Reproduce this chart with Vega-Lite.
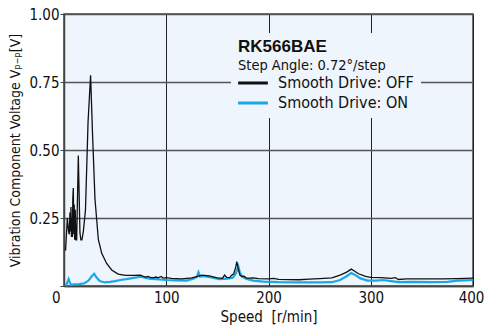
{
  "$schema": "https://vega.github.io/schema/vega-lite/v6.json",
  "width": 409,
  "height": 272,
  "autosize": {"type": "none"},
  "padding": {"left": 64, "top": 14, "right": 12, "bottom": 43},
  "background": "white",
  "config": {
    "font": "DejaVu Sans Condensed, sans-serif",
    "view": {"fill": "#EEF5FC", "stroke": "#444444", "strokeWidth": 1.5},
    "axis": {
      "labelFont": "DejaVu Sans Condensed, sans-serif",
      "titleFont": "DejaVu Sans Condensed, sans-serif",
      "labelFontSize": 15,
      "titleFontSize": 15,
      "titleFontWeight": "normal",
      "labelColor": "#111111",
      "titleColor": "#111111",
      "domainColor": "#444444",
      "domainWidth": 1.5
    }
  },
  "title": {
    "text": "RK566BAE",
    "subtitle": "Step Angle: 0.72°/step",
    "anchor": "start",
    "frame": "group",
    "orient": "top",
    "offset": -66,
    "dx": 174,
    "font": "Liberation Sans, sans-serif",
    "fontSize": 17,
    "fontWeight": "bold",
    "color": "#111111",
    "subtitleFont": "DejaVu Sans Condensed, sans-serif",
    "subtitleFontSize": 14.5,
    "subtitleColor": "#111111",
    "subtitlePadding": 3
  },
  "datasets": {
    "off": [
      {"speed": 1.5, "v": 0.13}, {"speed": 3.3, "v": 0.25}, {"speed": 4.5, "v": 0.2}, {"speed": 5.2, "v": 0.19},
      {"speed": 5.8, "v": 0.27}, {"speed": 6.4, "v": 0.2}, {"speed": 6.8, "v": 0.29}, {"speed": 7.3, "v": 0.18},
      {"speed": 7.8, "v": 0.25}, {"speed": 8.2, "v": 0.18}, {"speed": 8.6, "v": 0.32}, {"speed": 9.1, "v": 0.36},
      {"speed": 9.6, "v": 0.19}, {"speed": 10.0, "v": 0.3}, {"speed": 10.4, "v": 0.17}, {"speed": 11.0, "v": 0.28},
      {"speed": 11.7, "v": 0.17}, {"speed": 12.4, "v": 0.17}, {"speed": 14.0, "v": 0.48}, {"speed": 15.6, "v": 0.195},
      {"speed": 16.5, "v": 0.17}, {"speed": 17.5, "v": 0.17}, {"speed": 18.9, "v": 0.2}, {"speed": 21, "v": 0.28},
      {"speed": 23.5, "v": 0.6}, {"speed": 26, "v": 0.775}, {"speed": 28, "v": 0.55}, {"speed": 30.3, "v": 0.32},
      {"speed": 33.6, "v": 0.17}, {"speed": 36.9, "v": 0.12}, {"speed": 41.7, "v": 0.083}, {"speed": 46.6, "v": 0.059},
      {"speed": 53, "v": 0.044}, {"speed": 60, "v": 0.039}, {"speed": 68, "v": 0.039}, {"speed": 75, "v": 0.04},
      {"speed": 77, "v": 0.036}, {"speed": 80, "v": 0.033}, {"speed": 82, "v": 0.035}, {"speed": 85, "v": 0.031},
      {"speed": 88, "v": 0.031}, {"speed": 90, "v": 0.033}, {"speed": 92, "v": 0.03}, {"speed": 95, "v": 0.035},
      {"speed": 97, "v": 0.029}, {"speed": 100, "v": 0.031}, {"speed": 105, "v": 0.028}, {"speed": 115, "v": 0.026},
      {"speed": 125, "v": 0.03}, {"speed": 135, "v": 0.04}, {"speed": 142, "v": 0.037}, {"speed": 150, "v": 0.03},
      {"speed": 155, "v": 0.028}, {"speed": 157, "v": 0.04}, {"speed": 159, "v": 0.032}, {"speed": 162, "v": 0.031},
      {"speed": 164, "v": 0.04}, {"speed": 166, "v": 0.045}, {"speed": 168, "v": 0.07}, {"speed": 169, "v": 0.09},
      {"speed": 170, "v": 0.07}, {"speed": 172, "v": 0.04}, {"speed": 174, "v": 0.035}, {"speed": 176, "v": 0.036},
      {"speed": 178, "v": 0.03}, {"speed": 182, "v": 0.029}, {"speed": 185, "v": 0.03}, {"speed": 190, "v": 0.027},
      {"speed": 200, "v": 0.026}, {"speed": 205, "v": 0.028}, {"speed": 210, "v": 0.024}, {"speed": 230, "v": 0.023},
      {"speed": 240, "v": 0.025}, {"speed": 250, "v": 0.027}, {"speed": 262, "v": 0.03}, {"speed": 270, "v": 0.04},
      {"speed": 276, "v": 0.05}, {"speed": 281, "v": 0.062}, {"speed": 284, "v": 0.055}, {"speed": 288, "v": 0.045},
      {"speed": 295, "v": 0.035}, {"speed": 300, "v": 0.032}, {"speed": 310, "v": 0.031}, {"speed": 320, "v": 0.028},
      {"speed": 324, "v": 0.031}, {"speed": 327, "v": 0.024}, {"speed": 335, "v": 0.026}, {"speed": 350, "v": 0.026},
      {"speed": 370, "v": 0.026}, {"speed": 385, "v": 0.027}, {"speed": 400, "v": 0.029}
    ],
    "on": [
      {"speed": 1.5, "v": 0.0}, {"speed": 3, "v": 0.01}, {"speed": 4.5, "v": 0.025}, {"speed": 5.5, "v": 0.015},
      {"speed": 7, "v": 0.004}, {"speed": 10, "v": 0.006}, {"speed": 15, "v": 0.007}, {"speed": 20, "v": 0.01},
      {"speed": 24, "v": 0.02}, {"speed": 27, "v": 0.035}, {"speed": 29.5, "v": 0.045}, {"speed": 32, "v": 0.03},
      {"speed": 35, "v": 0.018}, {"speed": 40, "v": 0.013}, {"speed": 45, "v": 0.015}, {"speed": 50, "v": 0.018},
      {"speed": 55, "v": 0.022}, {"speed": 61, "v": 0.025}, {"speed": 68, "v": 0.03}, {"speed": 75, "v": 0.034},
      {"speed": 80, "v": 0.03}, {"speed": 85, "v": 0.026}, {"speed": 90, "v": 0.025}, {"speed": 100, "v": 0.022},
      {"speed": 110, "v": 0.021}, {"speed": 120, "v": 0.02}, {"speed": 127, "v": 0.028}, {"speed": 130, "v": 0.033},
      {"speed": 131.5, "v": 0.05}, {"speed": 133, "v": 0.035}, {"speed": 136, "v": 0.036}, {"speed": 140, "v": 0.034},
      {"speed": 145, "v": 0.031}, {"speed": 152, "v": 0.025}, {"speed": 160, "v": 0.027}, {"speed": 165, "v": 0.03},
      {"speed": 168, "v": 0.045}, {"speed": 170.5, "v": 0.072}, {"speed": 172, "v": 0.05}, {"speed": 174, "v": 0.035},
      {"speed": 178, "v": 0.027}, {"speed": 185, "v": 0.02}, {"speed": 195, "v": 0.016}, {"speed": 210, "v": 0.014},
      {"speed": 230, "v": 0.013}, {"speed": 250, "v": 0.013}, {"speed": 262, "v": 0.014}, {"speed": 270, "v": 0.022},
      {"speed": 276, "v": 0.035}, {"speed": 281, "v": 0.048}, {"speed": 285, "v": 0.04}, {"speed": 290, "v": 0.028},
      {"speed": 297, "v": 0.02}, {"speed": 305, "v": 0.02}, {"speed": 312, "v": 0.022}, {"speed": 320, "v": 0.018},
      {"speed": 327, "v": 0.014}, {"speed": 340, "v": 0.015}, {"speed": 360, "v": 0.014}, {"speed": 375, "v": 0.015},
      {"speed": 385, "v": 0.02}, {"speed": 392, "v": 0.021}, {"speed": 400, "v": 0.022}
    ]
  },
  "encoding": {
    "x": {
      "field": "speed", "type": "quantitative",
      "scale": {"domain": [0, 400], "nice": false},
      "axis": {
        "values": [0, 100, 200, 300, 400],
        "title": "Speed\u00a0 [r/min]",
        "grid": true, "gridColor": "#222222", "gridWidth": 1,
        "ticks": false,
        "labelPadding": 4,
        "titlePadding": 4,
        "labelAlign": {"condition": {"test": "datum.value === 0", "value": "right"}, "value": "center"},
        "labelOffset": {"condition": [{"test": "datum.value === 0", "value": -4}, {"test": "datum.value === 400", "value": -2}], "value": 0},
        "labelFlush": false,
        "labelOverlap": false
      }
    },
    "y": {
      "field": "v", "type": "quantitative",
      "scale": {"domain": [0, 1], "nice": false},
      "axis": {
        "values": [0, 0.25, 0.5, 0.75, 1],
        "labelExpr": "datum.value === 0 ? '' : format(datum.value, '.2f')",
        "title": "Vibration Component Voltage Vₚ₋ₚ[V]",
        "titleFontSize": 14,
        "grid": true, "gridColor": "#555555", "gridWidth": 1.3,
        "tickSize": 4, "tickColor": "#444444",
        "labelPadding": 1,
        "titlePadding": 6,
        "labelFlush": false,
        "labelOverlap": false
      }
    }
  },
  "layer": [
    {
      "data": {"name": "on"},
      "transform": [{"calculate": "'Smooth Drive: ON'", "as": "series"}],
      "mark": {"type": "line", "strokeWidth": 2.2, "interpolate": "linear"},
      "encoding": {
        "color": {"field": "series", "type": "nominal",
          "scale": {"domain": ["Smooth Drive: OFF", "Smooth Drive: ON"], "range": ["#111111", "#1AA7E8"]},
          "legend": {
            "orient": "none", "legendX": 167, "legendY": 19,
            "title": "\u00a0\u00a0\u00a0\u00a0\u00a0\u00a0\u00a0\u00a0\u00a0\u00a0\u00a0\u00a0\u00a0\u00a0\u00a0\u00a0\u00a0\u00a0\u00a0\u00a0\u00a0\u00a0\u00a0\u00a0\u00a0\u00a0\u00a0\u00a0\u00a0\u00a0\u00a0\u00a0\u00a0\u00a0\u00a0\u00a0\u00a0\u00a0\u00a0\u00a0\u00a0\u00a0\u00a0\u00a0\u00a0\u00a0\u00a0\u00a0\u00a0\u00a0\u00a0\u00a0\u00a0\u00a0\u00a0\u00a0\u00a0\u00a0",
            "titleFontSize": 16, "titlePadding": 17,
            "padding": 7, "fillColor": "#EEF5FC",
            "symbolType": "M-1.75,0H1.75", "symbolSize": 289, "symbolStrokeWidth": 3,
            "symbolOffset": 5, "labelOffset": 15,
            "labelFontSize": 16, "labelColor": "#111111",
            "labelFont": "DejaVu Sans Condensed, sans-serif",
            "rowPadding": 2, "labelLimit": 300
          }
        }
      }
    },
    {
      "data": {"name": "off"},
      "transform": [{"calculate": "'Smooth Drive: OFF'", "as": "series"}],
      "mark": {"type": "line", "strokeWidth": 1.3, "interpolate": "linear"},
      "encoding": {
        "color": {"field": "series", "type": "nominal"}
      }
    }
  ]
}
